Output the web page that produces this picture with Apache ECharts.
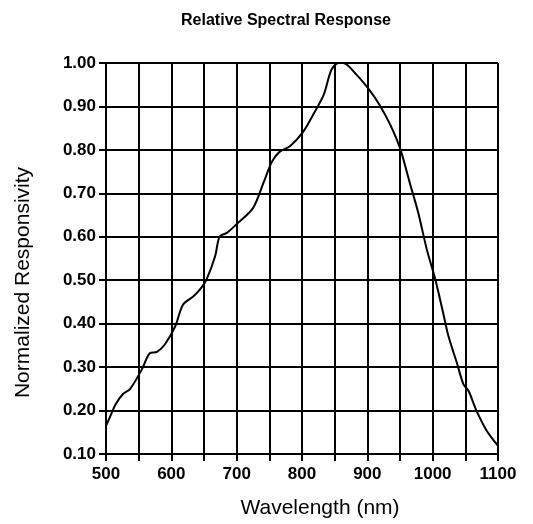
<!DOCTYPE html>
<html>
<head>
<meta charset="utf-8">
<title>Relative Spectral Response</title>
<script src="https://cdn.jsdelivr.net/npm/echarts@6/dist/echarts.min.js"></script>
<style>
  html, body { margin: 0; padding: 0; background: #fff; }
  #chart { width: 533px; height: 524px; }
</style>
</head>
<body>
<div id="chart"></div>
<script>
// values
const wavelength = [500, 506, 515, 526, 537, 555, 567, 578, 590, 606, 618, 634, 646, 654, 667, 674, 685, 702, 725, 741, 754, 766, 782, 802, 817, 833, 845, 856, 863, 884, 903, 919, 935, 950, 965, 978, 991, 1004, 1016, 1024, 1037, 1047, 1055, 1067, 1083, 1100];
const responsivity = [0.165, 0.185, 0.215, 0.238, 0.25, 0.295, 0.332, 0.335, 0.352, 0.394, 0.444, 0.463, 0.483, 0.502, 0.555, 0.601, 0.609, 0.632, 0.666, 0.724, 0.773, 0.796, 0.809, 0.842, 0.881, 0.926, 0.984, 1.0, 1.0, 0.972, 0.938, 0.903, 0.858, 0.804, 0.724, 0.655, 0.571, 0.502, 0.425, 0.372, 0.31, 0.261, 0.245, 0.2, 0.153, 0.119];
const xLabels = [500, 600, 700, 800, 900, 1000, 1100];

// Liberation Sans has the narrowest bold digits of the installed fonts
const tickFont = '"Liberation Sans", Arial, sans-serif';
const textFont = '"Liberation Sans", Arial, sans-serif';

const chart = echarts.init(document.getElementById('chart'));
chart.setOption({
  backgroundColor: '#fff',
  animation: false,
  title: {
    text: 'Relative Spectral Response',
    left: 281,
    textAlign: 'center',
    top: 8,
    textStyle: { fontFamily: textFont, fontSize: 16, fontWeight: 'bold', color: '#000' }
  },
  grid: { left: 106, right: 35, top: 63, bottom: 69 },
  xAxis: {
    type: 'value',
    min: 500,
    max: 1100,
    interval: 50,
    name: 'Wavelength (nm)',
    nameLocation: 'middle',
    nameGap: 44,
    nameTextStyle: { fontFamily: textFont, fontSize: 21, color: '#000', padding: [0, 0, 0, 36] },
    axisLine: { show: true, lineStyle: { color: '#000', width: 2 } },
    axisTick: { show: true, length: 7, lineStyle: { color: '#000', width: 2 } },
    axisLabel: {
      margin: 12,
      fontFamily: tickFont,
      fontSize: 17,
      fontWeight: 'bold',
      color: '#000',
      formatter: v => (xLabels.indexOf(v) >= 0 ? String(v) : '')
    },
    splitLine: { show: true, lineStyle: { color: '#000', width: 2 } }
  },
  yAxis: {
    type: 'value',
    min: 0.1,
    max: 1.0,
    interval: 0.1,
    name: 'Normalized Responsivity',
    nameLocation: 'middle',
    nameGap: 72,
    nameTextStyle: { fontFamily: textFont, fontSize: 21, color: '#000', padding: [0, 48, 0, 0] },
    axisLine: { show: true, lineStyle: { color: '#000', width: 2 } },
    axisTick: { show: true, length: 7, lineStyle: { color: '#000', width: 2 } },
    axisLabel: {
      margin: 10,
      fontFamily: tickFont,
      fontSize: 17,
      fontWeight: 'bold',
      color: '#000',
      formatter: v => v.toFixed(2)
    },
    splitLine: { show: true, lineStyle: { color: '#000', width: 2 } }
  },
  series: [{
    type: 'line',
    data: wavelength.map((w, i) => [w, responsivity[i]]),
    smooth: 0.3,
    showSymbol: false,
    clip: false,
    lineStyle: { color: '#000', width: 2 }
  }]
});
</script>
</body>
</html>
